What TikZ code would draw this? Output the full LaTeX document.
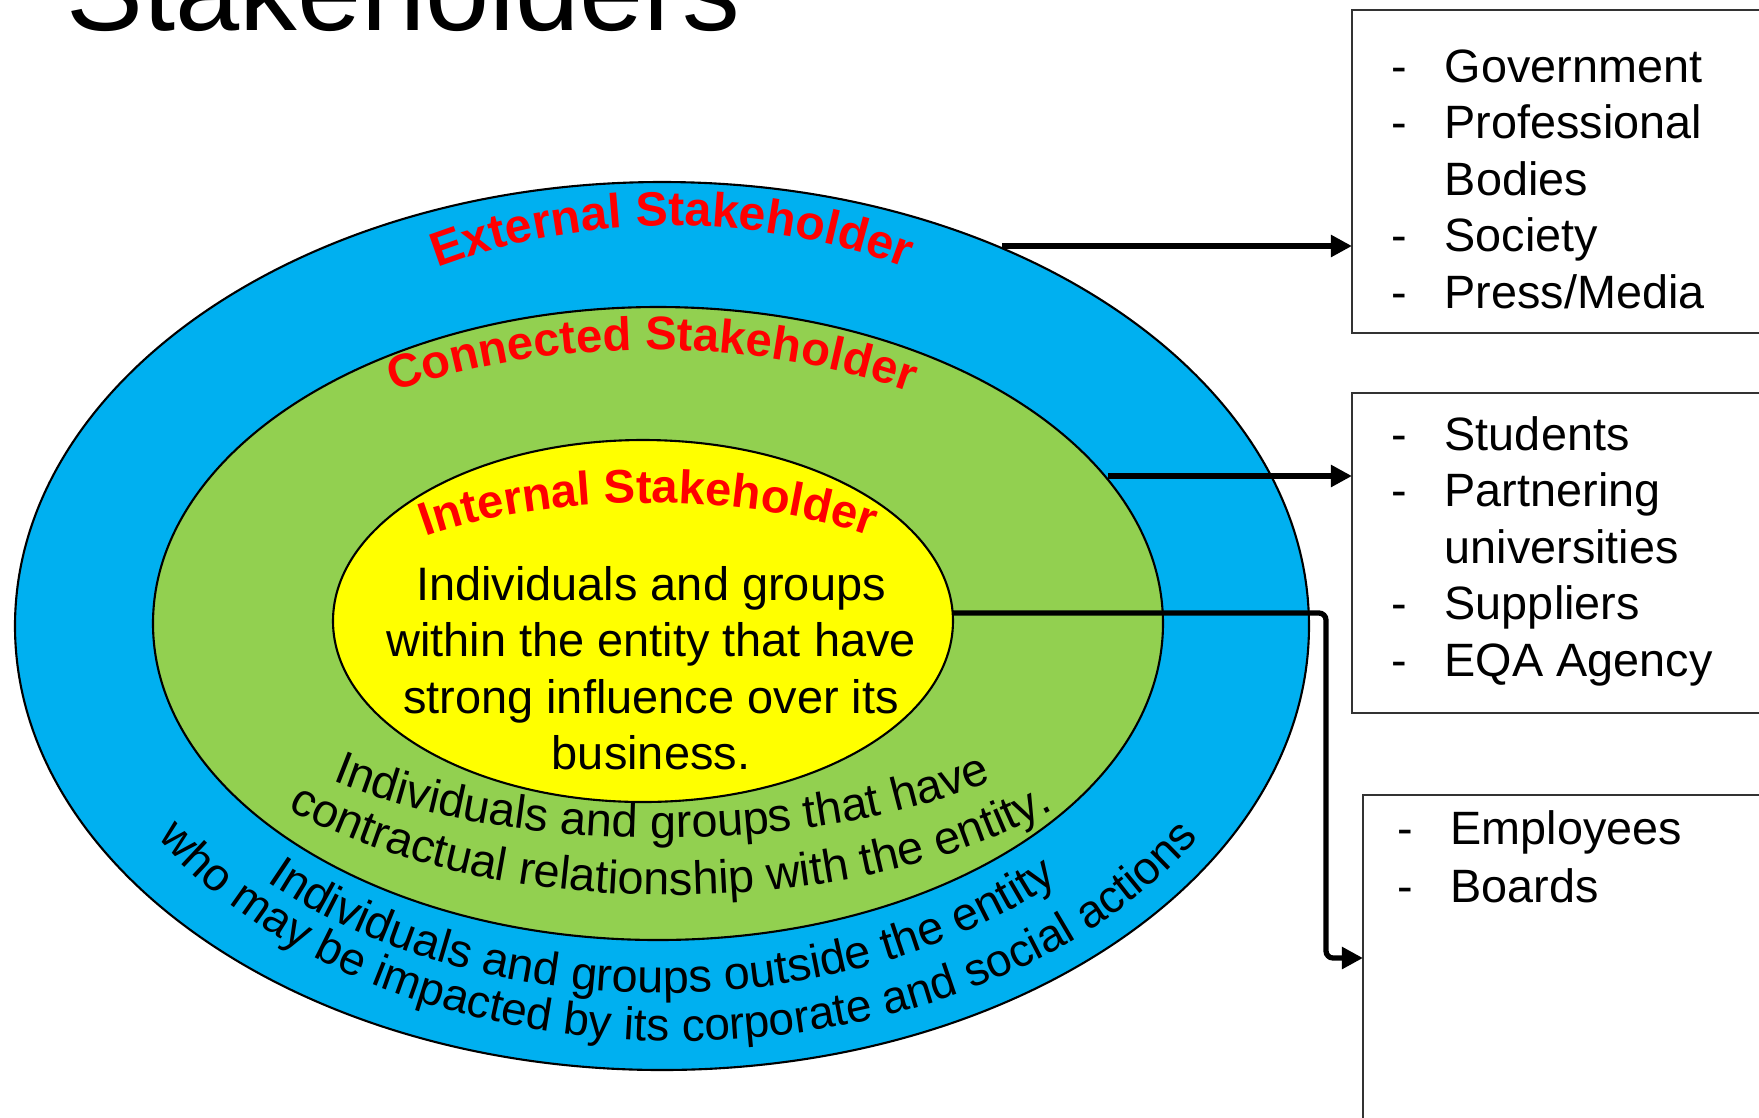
\documentclass[tikz,border=0pt]{standalone}
\usepackage{fontspec}
\setmainfont{Liberation Sans}
\usetikzlibrary{decorations.text, arrows.meta}
\definecolor{bandblue}{HTML}{00B0F0}
\definecolor{bandgreen}{HTML}{92D050}
\definecolor{bandyellow}{HTML}{FFFF00}
\definecolor{lblred}{HTML}{FF0000}
\newcommand{\dashitem}[1]{\makebox[15.1pt][l]{-}#1}
\newcommand{\contitem}[1]{\hspace*{15.1pt}#1}
\newcommand{\redfmt}{\fontsize{13.7}{16}\selectfont\bfseries\color{lblred}}
\newcommand{\redfmtb}{\fontsize{13.4}{16}\selectfont\bfseries\color{lblred}}
\newcommand{\curvfmt}{\fontsize{13.3}{15}\selectfont}
\newcommand{\curvfmtb}{\fontsize{13.05}{15}\selectfont}
\begin{document}
\begin{tikzpicture}[x=0.01cm,y=0.01cm,
  ring/.style={draw=black, line width=0.6pt},
  arr/.style={line width=1.5pt, -{Triangle[length=6pt,width=6pt]}},
  listbox/.style={draw=black!80, line width=0.7pt, inner sep=0pt, outer sep=0pt, anchor=north west},
  itemtxt/.style={anchor=base west, inner sep=0pt, font=\fontsize{13.3}{16}\selectfont},
  bodytxt/.style={anchor=base, inner sep=0pt, font=\fontsize{13.35}{16}\selectfont},
  titletxt/.style={anchor=base west, inner sep=0pt, font=\fontsize{32.8}{39}\selectfont}
]
\useasboundingbox (0,0) rectangle (1759,-1117);
\clip (0,0) rectangle (1759,-1117);
\fill[white] (0,0) rectangle (1759,-1117);

% title
\node[titletxt] (title) at (66,-30) {Stakeholders};

% rings
\filldraw[ring, fill=bandblue] (662,-626) ellipse [x radius=647, y radius=444];
\filldraw[ring, fill=bandgreen] (658,-623.5) ellipse [x radius=505, y radius=316.5];
\filldraw[ring, fill=bandyellow] (643,-621) ellipse [x radius=310, y radius=181];

% red curved labels
\path[decorate, decoration={text along path, text align=center,
  text={|\redfmt|External Stakeholder}}]
  (672,-626) ++(160:525 and 400) arc[start angle=160, end angle=20, x radius=525, y radius=400];
\path[decorate, decoration={text along path, text align=center,
  text={|\redfmtb|Connected Stakeholder}}]
  (652,-623) ++(165:485 and 273) arc[start angle=165, end angle=15, x radius=485, y radius=273];
\path[decorate, decoration={text along path, text align=center,
  text={|\redfmtb|Internal Stakeholder}}]
  (648,-621) ++(170:318 and 118) arc[start angle=170, end angle=10, x radius=318, y radius=118];

% inner text
\node[bodytxt] (in1) at (651,-600) {Individuals and groups};
\node[bodytxt] (in2) at (651,-656.5) {within the entity that have};
\node[bodytxt] (in3) at (651,-713) {strong influence over its};
\node[bodytxt] (in4) at (651,-769.5) {business.};

% bottom curved texts
\path[decorate, decoration={text along path, text align=center,
  text={|\curvfmt|Individuals and groups that have}}]
  (662,-623) ++(195:486 and 215) arc[start angle=195, end angle=345, x radius=486, y radius=215];
\path[decorate, decoration={text along path, text align=center,
  text={|\curvfmt|contractual relationship with the entity.}}]
  (671,-623) ++(195:525 and 272) arc[start angle=195, end angle=345, x radius=525, y radius=272];
\path[decorate, decoration={text along path, text align=center,
  text={|\curvfmt|Individuals and groups outside the entity}}]
  (662,-626) ++(195:550 and 367) arc[start angle=195, end angle=345, x radius=550, y radius=367];
\path[decorate, decoration={text along path, text align=center,
  text={|\curvfmtb|who may be impacted by its corporate and social actions}}]
  (678,-626) ++(190:605 and 415) arc[start angle=190, end angle=350, x radius=605, y radius=415];

% boxes
\node[listbox, minimum width=5cm, minimum height=3.23cm] (box1) at (1352,-10) {};
\node[listbox, minimum width=5cm, minimum height=3.20cm] (box2) at (1352,-393) {};
\node[listbox, minimum width=5cm, minimum height=4cm] (box3) at (1363,-795) {};

\node[itemtxt] (b1a) at (1391,-82) {\dashitem{Government}};
\node[itemtxt] (b1b) at (1391,-138.5) {\dashitem{Professional}};
\node[itemtxt] (b1c) at (1391,-195) {\contitem{Bodies}};
\node[itemtxt] (b1d) at (1391,-251.5) {\dashitem{Society}};
\node[itemtxt] (b1e) at (1391,-308) {\dashitem{Press/Media}};

\node[itemtxt] (b2a) at (1391,-450) {\dashitem{Students}};
\node[itemtxt] (b2b) at (1391,-506.5) {\dashitem{Partnering}};
\node[itemtxt] (b2c) at (1391,-563) {\contitem{universities}};
\node[itemtxt] (b2d) at (1391,-619.5) {\dashitem{Suppliers}};
\node[itemtxt] (b2e) at (1391,-676) {\dashitem{EQA Agency}};

\node[itemtxt] (b3a) at (1397,-844) {\dashitem{Employees}};
\node[itemtxt] (b3b) at (1397,-902) {\dashitem{Boards}};

% connectors
\coordinate (extout) at (1002,-246);
\coordinate (conout) at (1108,-476);
\coordinate (intout) at (953,-613);
\coordinate (bend) at (1326,-613);
\coordinate (drop) at (1326,-958);
\draw[arr] (extout) -- (extout -| box1.west);
\draw[arr] (conout) -- (conout -| box2.west);
\draw[arr, rounded corners=2pt] (intout) -- (bend) -- (drop) -- (drop -| box3.west);
\end{tikzpicture}
\end{document}
